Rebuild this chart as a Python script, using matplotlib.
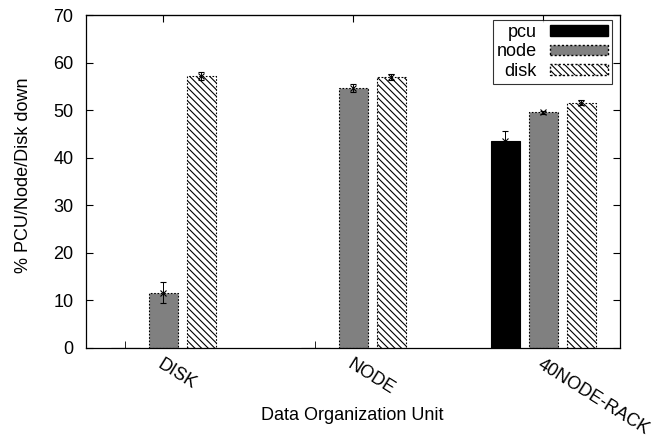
import numpy as np
import matplotlib.pyplot as plt
from matplotlib.patches import Patch

plt.rcParams['font.family'] = ['Liberation Sans', 'DejaVu Sans']
plt.rcParams['hatch.linewidth'] = 0.8

categories = ['DISK', 'NODE', '40NODE-RACK']
series = ['pcu', 'node', 'disk']
pcu_vals = [0.0, 0.0, 43.5]
pcu_err = [0.0, 0.0, 2.1]
node_vals = [11.6, 54.6, 49.5]
node_err = [2.2, 0.8, 0.4]
disk_vals = [57.2, 57.0, 51.6]
disk_err = [0.8, 0.6, 0.5]

fs = 13

fig = plt.figure(figsize=(6.55, 4.42), dpi=100)
ax = fig.add_axes([0.131, 0.213, 0.815, 0.753])

groups = np.arange(len(categories)) * 5
w = 0.76
dots = (0, (1.5, 1.5))
hatch = '\\\\\\\\\\'

ax.bar(groups, pcu_vals, w, color='black', edgecolor='black', linewidth=0.8)
ax.bar(groups + 1, node_vals, w, color='#808080', edgecolor='black',
       linestyle=dots, linewidth=0.8)
ax.bar(groups + 2, disk_vals, w, color='white', edgecolor='black',
       hatch=hatch, linestyle=dots, linewidth=0.8)

# error bars, skip the empty pcu bars
for off, vals, errs in [(0, pcu_vals, pcu_err), (1, node_vals, node_err), (2, disk_vals, disk_err)]:
    xs = [g + off for g, v in zip(groups, vals) if v > 0]
    ys = [v for v in vals if v > 0]
    es = [e for v, e in zip(vals, errs) if v > 0]
    ax.errorbar(xs, ys, yerr=es, fmt='x', ms=4, mew=0.8, color='black',
                ecolor='black', elinewidth=0.7, capsize=2.5, capthick=0.7,
                linestyle='none')

ax.set_xlim(-1.04, 13.01)
ax.set_ylim(0, 70)
ax.set_yticks(range(0, 71, 10))
ax.tick_params(axis='y', direction='in', right=True, length=5, labelsize=fs, pad=9)

ax.set_xticks(groups + 1)
ax.set_xticklabels(categories, rotation=-32, ha='left', va='top',
                   rotation_mode='anchor', fontsize=fs)
ax.tick_params(axis='x', which='major', length=0, pad=6)
ax.set_xticks(groups, minor=True)
ax.tick_params(axis='x', which='minor', direction='in', length=5)

top = ax.secondary_xaxis('top')
top.set_xticks(groups + 1)
top.set_xticklabels([])
top.tick_params(direction='in', length=5)

for s in ax.spines.values():
    s.set_linewidth(0.9)

ax.set_xlabel('Data Organization Unit', fontsize=fs, va='top')
ax.xaxis.set_label_coords(0.5, -0.178)
ax.set_ylabel('% PCU/Node/Disk down', fontsize=fs)
ax.yaxis.set_label_coords(-0.10, 0.52)

handles = [
    Patch(facecolor='black', edgecolor='black', label='pcu'),
    Patch(facecolor='#808080', edgecolor='black', linestyle=dots, label='node'),
    Patch(facecolor='white', edgecolor='black', hatch=hatch, linestyle=dots, label='disk'),
]
leg = ax.legend(handles=handles, loc='upper right', bbox_to_anchor=(0.985, 0.985),
                markerfirst=False, fontsize=13, frameon=True, fancybox=False,
                handlelength=3.2, handleheight=0.55, labelspacing=0.15,
                borderpad=0.2, handletextpad=0.75, borderaxespad=0.0)
leg.get_frame().set_edgecolor('black')
leg.get_frame().set_linewidth(0.8)

fig.savefig('out.png', dpi=100)
